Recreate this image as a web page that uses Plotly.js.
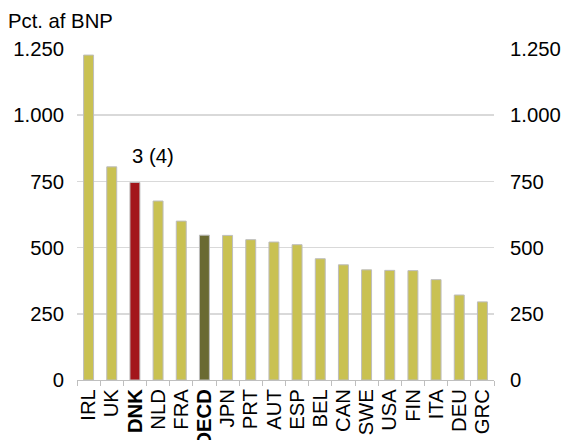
<!DOCTYPE html>
<html>
<head>
<meta charset="utf-8">
<script src="https://cdn.plot.ly/plotly-3.0.1.min.js"></script>
<style>html,body{margin:0;padding:0;background:#fff;}#chart{width:565px;height:440px;}</style>
</head>
<body>
<div id="chart"></div>
<script>
const categories = ["IRL","UK","DNK","NLD","FRA","OECD","JPN","PRT","AUT","ESP","BEL","CAN","SWE","USA","FIN","ITA","DEU","GRC"];
const values = [1227, 805, 746, 676, 600, 547, 546, 530, 521, 511, 458, 435, 416, 414, 413, 379, 321, 295];
const tickVals = [0, 250, 500, 750, 1000, 1250];
const tickText = ["0", "250", "500", "750", "1.000", "1.250"];
const boldCats = ["DNK", "OECD"];
const annotationText = "3 (4)";

const cYellow = "#c9c152";
const cRed = "#a3161b";
const cOlive = "#6a6a32";
const colors = categories.map(c => c === "DNK" ? cRed : (c === "OECD" ? cOlive : cYellow));
const catLabels = categories.map(c => boldCats.includes(c) ? "<b>" + c + "</b>" : c);

const font = {family: "Liberation Sans, Arial, sans-serif", size: 20.3, color: "#000"};

const traces = [
  {
    type: "bar",
    x: catLabels,
    y: values,
    marker: {color: colors, line: {color: "#bdbdbd", width: 1}},
    hoverinfo: "x+y"
  },
  {
    type: "scatter",
    mode: "markers",
    x: catLabels,
    y: values,
    yaxis: "y2",
    marker: {opacity: 0},
    hoverinfo: "skip",
    showlegend: false
  }
];

const layout = {
  width: 565,
  height: 440,
  margin: {l: 77, r: 71, t: 49, b: 60, autoexpand: false},
  paper_bgcolor: "#fff",
  plot_bgcolor: "#fff",
  showlegend: false,
  font: font,
  bargap: 0.57,
  title: {text: "Pct. af BNP", font: font, x: 8/565, xref: "container", xanchor: "left", y: 1 - 21/440, yref: "container", yanchor: "middle", automargin: false},
  xaxis: {
    type: "category",
    range: [-0.5, categories.length - 0.5],
    tickmode: "linear",
    dtick: 1,
    tickangle: -90,
    tickfont: font,
    showline: true,
    linecolor: "#bfbfbf",
    linewidth: 1,
    ticks: "outside",
    ticklen: 5,
    tickcolor: "#bfbfbf",
    tickson: "boundaries",
    showgrid: false,
    automargin: false
  },
  yaxis: {
    range: [0, 1250],
    tickvals: tickVals,
    ticktext: tickText,
    tickfont: font,
    showgrid: true,
    gridcolor: "#d9d9d9",
    gridwidth: 1.5,
    zeroline: false,
    showline: false,
    ticks: "",
    ticklabelstandoff: 12,
    automargin: false
  },
  yaxis2: {
    overlaying: "y",
    side: "right",
    range: [0, 1250],
    tickvals: tickVals,
    ticktext: tickText,
    tickfont: font,
    showgrid: false,
    zeroline: false,
    showline: false,
    ticks: "",
    ticklabelstandoff: 15,
    automargin: false
  },
  annotations: [
    {text: annotationText, x: "<b>DNK</b>", xshift: 18, y: 746, yref: "y", xref: "x", yshift: 26.5, showarrow: false, font: font, xanchor: "center", yanchor: "middle"}
  ]
};

Plotly.newPlot("chart", traces, layout, {displayModeBar: false, staticPlot: true});
</script>
</body>
</html>
